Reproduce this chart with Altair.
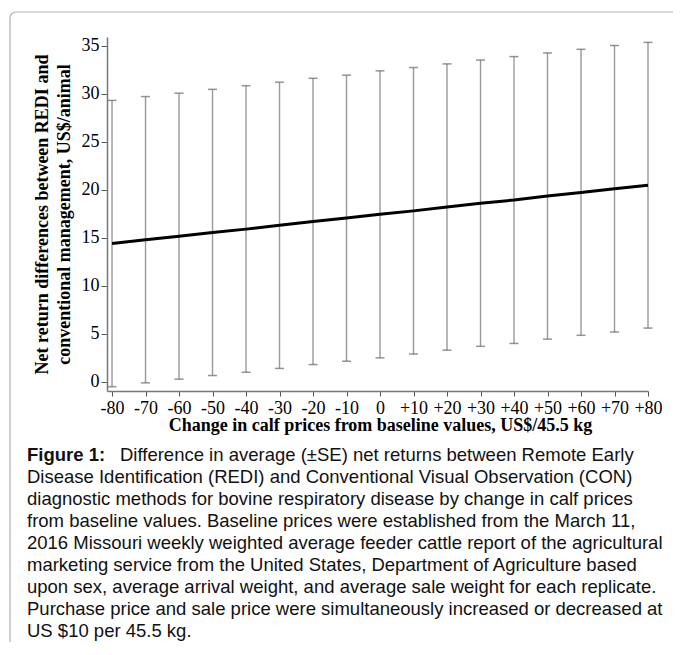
import altair as alt
import pandas as pd

# ---- data ----
change = [-80, -70, -60, -50, -40, -30, -20, -10, 0, 10, 20, 30, 40, 50, 60, 70, 80]
net_return = [14.4, 14.8, 15.17, 15.55, 15.9, 16.3, 16.7, 17.05, 17.44, 17.8,
              18.2, 18.6, 18.93, 19.35, 19.72, 20.1, 20.47]
upper = [29.3, 29.7, 30.05, 30.45, 30.83, 31.2, 31.6, 31.93, 32.38, 32.72,
         33.1, 33.5, 33.86, 34.24, 34.62, 35.02, 35.34]
lower = [-0.5, -0.1, 0.28, 0.66, 1.0, 1.4, 1.8, 2.15, 2.5, 2.9,
         3.3, 3.7, 4.0, 4.45, 4.85, 5.2, 5.6]

x_ticks = [-80, -70, -60, -50, -40, -30, -20, -10, 0, 10, 20, 30, 40, 50, 60, 70, 80]
y_ticks = [0, 5, 10, 15, 20, 25, 30, 35]

x_title = "Change in calf prices from baseline values, US$/45.5 kg"
y_title = ["Net return differences between REDI and",
           "conventional management, US$/animal"]

caption_bold = "Figure 1:"
caption_first = "Difference in average (\u00b1SE) net returns between Remote Early"
caption_rest = [
    "Disease Identification (REDI) and Conventional Visual Observation (CON)",
    "diagnostic methods for bovine respiratory disease by change in calf prices",
    "from baseline values. Baseline prices were established from the March 11,",
    "2016 Missouri weekly weighted average feeder cattle report of the agricultural",
    "marketing service from the United States, Department of Agriculture based",
    "upon sex, average arrival weight, and average sale weight for each replicate.",
    "Purchase price and sale price were simultaneously increased or decreased at",
    "US $10 per 45.5 kg.",
]

df = pd.DataFrame({"change": change, "mean": net_return, "low": lower, "high": upper})

W, H = 541, 354
SERIF = "Liberation Serif"
SANS = "Liberation Sans"

xscale = alt.Scale(domain=[-81.5, 80], nice=False, zero=False)
yscale = alt.Scale(domain=[-0.95, 35.9], nice=False, zero=False)

x_axis = alt.Axis(
    values=x_ticks,
    labelExpr="datum.value > 0 ? '+' + datum.value : '' + datum.value",
    title=x_title,
    titleFont=SERIF, titleFontSize=18, titleFontWeight="bold", titleColor="black",
    titleX=273, titleY=34, titleAlign="center", titleBaseline="middle",
    labelFont=SERIF, labelFontSize=18, labelColor="black", labelPadding=3,
    labelOverlap=False, labelFlush=False,
    tickSize=5, tickColor="#555", domainColor="#777", domainWidth=1.5, grid=False,
)
y_axis = alt.Axis(
    values=y_ticks,
    title=y_title,
    titleFont=SERIF, titleFontSize=18, titleFontWeight="bold", titleColor="black",
    titleX=-65, titleY=H / 2, titleAlign="center", titleBaseline="middle",
    titleLineHeight=22,
    labelFont=SERIF, labelFontSize=18, labelColor="black", labelPadding=2,
    tickSize=6, tickColor="#555", domainColor="#777", domainWidth=1.5, grid=False,
)

X = alt.X("change:Q", scale=xscale, axis=x_axis)

base = alt.Chart(df)

bars = base.mark_rule(color="#999999", strokeWidth=1.4).encode(
    x=X,
    y=alt.Y("low:Q", scale=yscale, axis=y_axis),
    y2="high:Q",
)
cap_hi = base.mark_tick(orient="horizontal", size=9, thickness=1.5, color="#666").encode(
    x=X, y=alt.Y("high:Q", scale=yscale, axis=y_axis)
)
cap_lo = base.mark_tick(orient="horizontal", size=9, thickness=1.5, color="#666").encode(
    x=X, y=alt.Y("low:Q", scale=yscale, axis=y_axis)
)
line = base.mark_line(color="black", strokeWidth=3).encode(
    x=X, y=alt.Y("mean:Q", scale=yscale, axis=y_axis)
)

one = alt.Chart(pd.DataFrame({"k": [0]}))

border_left = one.mark_rule(color="#b0b0b0", strokeWidth=1.2).encode(
    x=alt.value(-97), y=alt.value(-19), y2=alt.value(700)
)
border_top = one.mark_rule(color="#b0b0b0", strokeWidth=1.2).encode(
    x=alt.value(-91), x2=alt.value(700), y=alt.value(-25)
)
border_corner = one.mark_arc(
    stroke="#b0b0b0", strokeWidth=1.2, fillOpacity=0,
    radius=6, radius2=6, theta=4.712, theta2=6.283
).encode(x=alt.value(-91), y=alt.value(-19))

FS = 18.5
LH = 22
cap1 = one.mark_text(text=caption_bold, font=SANS, fontSize=FS, fontWeight="bold",
                     align="left", baseline="alphabetic", color="#111").encode(
    x=alt.value(-80), y=alt.value(423.5)
)
cap2 = one.mark_text(text=caption_first, font=SANS, fontSize=FS,
                     align="left", baseline="alphabetic", color="#111").encode(
    x=alt.value(13), y=alt.value(423.5)
)
cap3 = one.mark_text(text=caption_rest, font=SANS, fontSize=FS, lineHeight=LH,
                     align="left", baseline="alphabetic", color="#111").encode(
    x=alt.value(-80), y=alt.value(423.5 + LH)
)

chart = alt.layer(border_left, border_top, border_corner, bars, cap_hi, cap_lo, line,
                  cap1, cap2, cap3).properties(
    width=W, height=H,
    autosize=alt.AutoSizeParams(type="none"),
    padding={"left": 99, "top": 29, "right": 25, "bottom": 251},
).configure_view(strokeWidth=0)

chart.save("out.html", embed_options={"renderer": "svg", "actions": False})
